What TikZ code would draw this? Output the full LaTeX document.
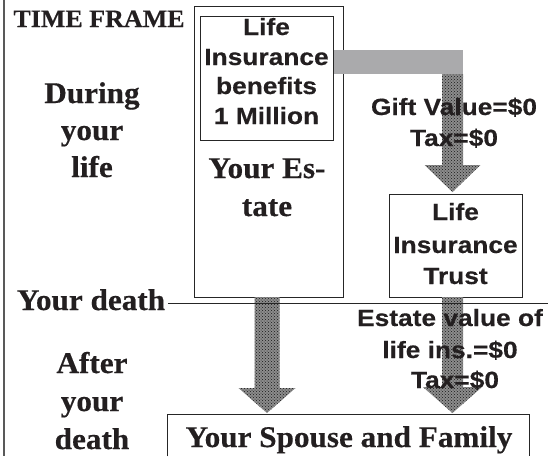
\documentclass[tikz,border=0pt]{standalone}
\usepackage{fontspec}
\setmainfont{Liberation Serif}
\newfontfamily\serifb[FakeStretch=1.04,FakeBold=0.4]{Liberation Serif}
\newfontfamily\sansb[FakeStretch=1.12,FakeBold=0.4]{Liberation Sans}
\usetikzlibrary{patterns,calc}
\definecolor{bargray}{RGB}{170,170,172}
\definecolor{ink}{RGB}{35,31,32}
\newcommand\bigarrow[5]{%
  \path[arrowfill] let \p1=(#1), \p2=(#2) in
    ({\x1-#3pt},{\y1}) -- ({\x1+#3pt},{\y1}) -- ({\x1+#3pt},{\y2+#5pt})
    -- ({\x1+#4pt},{\y2+#5pt}) -- ({\x1},{\y2}) -- ({\x1-#4pt},{\y2+#5pt})
    -- ({\x1-#3pt},{\y2+#5pt}) -- cycle;}
\begin{document}
\begin{tikzpicture}[x=1pt,y=-1pt,
  lbl/.style={inner sep=0pt, anchor=base, text=ink, font=\serifb\bfseries\fontsize{30}{36}\selectfont},
  sl/.style={inner sep=0pt, anchor=base, text=ink, font=\sansb\bfseries\fontsize{23.5}{28}\selectfont},
  boxn/.style={draw=black!85, line width=1pt, inner sep=0pt, anchor=north west},
  arrowfill/.style={fill=black!45, postaction={pattern=crosshatch dots, pattern color=black!90}},
  rule/.style={draw=black!85, line width=1pt}]
\useasboundingbox (0,0) rectangle (548,456);
% left frame line
\draw[draw=black!65, line width=1.5pt] (4,0) -- (4,456);
% boxes
\node[boxn, minimum width=149pt, minimum height=291pt] (estate) at (194,6) {};
\node[boxn, minimum width=133pt, minimum height=124pt] (lib) at (200,16) {};
\node[boxn, minimum width=133pt, minimum height=103pt] (trust) at (389,194) {};
\node[inner sep=0pt, anchor=north west, minimum width=362pt, minimum height=42pt] (spouse) at (167,414) {};
\draw[rule] (spouse.south west) -- (spouse.north west) -- (spouse.north east) -- (spouse.south east);
% gray bar from inner box
\coordinate (barend) at (463,74);
\fill[bargray] (lib.east |- 0,50) rectangle (barend);
% arrows
\coordinate (a1s) at (452.5,74);
\coordinate (a1t) at (452.5,192);
\coordinate (a2s) at (267,297);
\coordinate (a2t) at (267,413);
\coordinate (a3s) at (452.5,297);
\coordinate (a3t) at (452.5,413);
\bigarrow{a1s}{a1t}{10.5}{28}{27}
\bigarrow{a2s}{a2t}{12.5}{28.5}{25}
\bigarrow{a3s}{a3t}{10.5}{29.5}{26}
% death line
\node[lbl] (ydeath) at (91,310) {Your death};
\coordinate (lineR) at (548,303);
\draw[rule] ($(ydeath.east |- lineR)+(3,0)$) -- (lineR);
% left labels
\node[lbl, font=\serifb\bfseries\fontsize{25}{30}\selectfont] (tf) at (99,27) {TIME FRAME};
\node[lbl] (d1) at (92,103) {During};
\node[lbl] (d2) at (92,140) {your};
\node[lbl] (d3) at (92,177) {life};
\node[lbl] (a1) at (92,373) {After};
\node[lbl] (a2) at (92,411) {your};
\node[lbl] (a3) at (92,449) {death};
% estate text
\node[lbl] (e1) at (267,178) {Your Es-};
\node[lbl] (e2) at (267,216) {tate};
% inner box text
\node[sl] (l1) at (266.5,35) {Life};
\node[sl] (l2) at (266.5,65) {Insurance};
\node[sl] (l3) at (266.5,94) {benefits};
\node[sl] (l4) at (266.5,124) {1 Million};
% gift text
\node[sl] (g1) at (454,115) {Gift Value=\$0};
\node[sl] (g2) at (454,146) {Tax=\$0};
% trust text
\node[sl] (t1) at (455.5,220) {Life};
\node[sl] (t2) at (455.5,253) {Insurance};
\node[sl] (t3) at (455.5,284) {Trust};
% estate value text
\node[sl] (v1) at (450,326) {Estate value of};
\node[sl] (v2) at (450,358) {life ins.=\$0};
\node[sl] (v3) at (455,388) {Tax=\$0};
% spouse text
\node[lbl] (s1) at (349,447) {Your Spouse and Family};
\end{tikzpicture}
\end{document}
